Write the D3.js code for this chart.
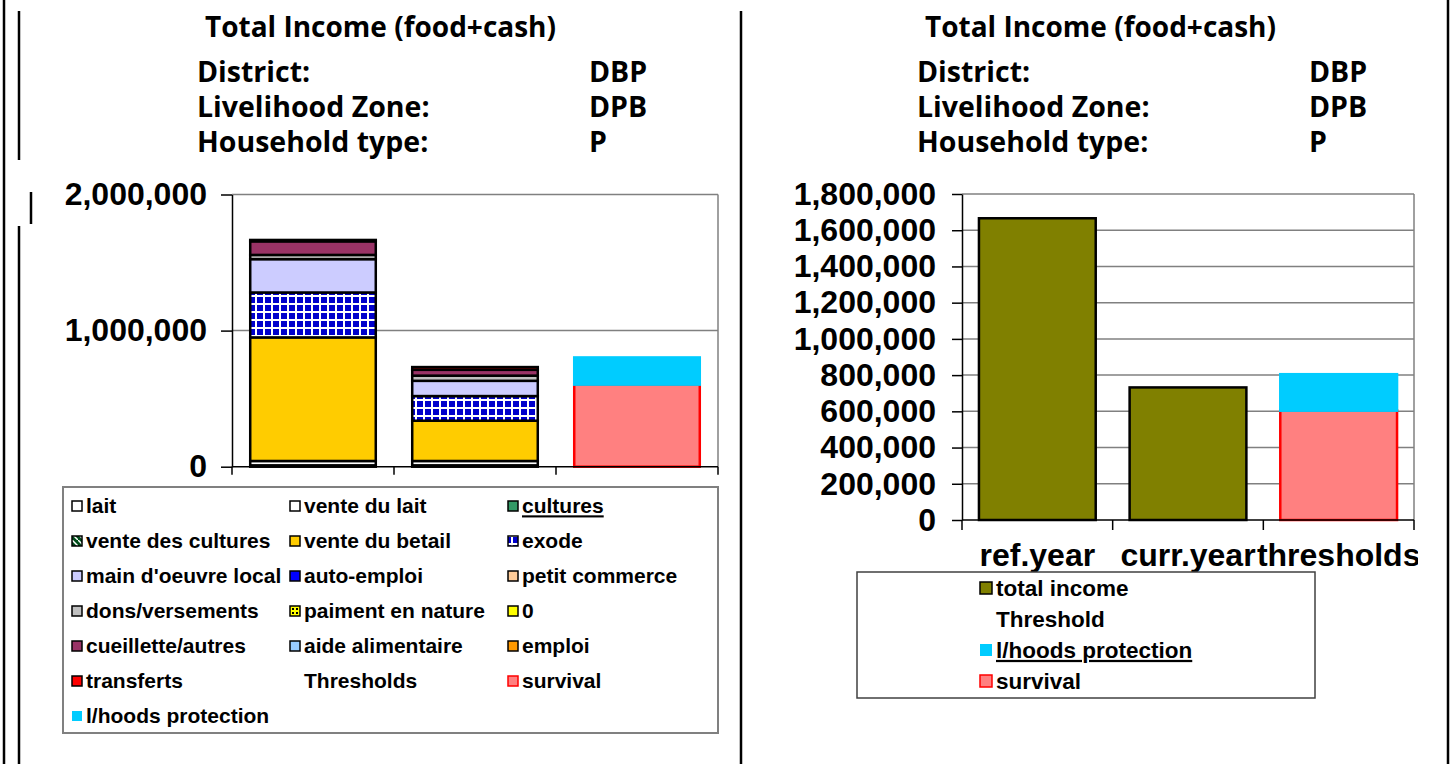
<!DOCTYPE html>
<html>
<head>
<meta charset="utf-8">
<script src="https://cdn.jsdelivr.net/npm/d3@7"></script>
<style>
body { margin: 0; background: #fff; }
svg text { font-family: "Liberation Sans", Arial, sans-serif; font-weight: bold; fill: #000; }
svg text.hdr { font-family: "Open Sans", Lato, sans-serif; font-weight: 700; }
</style>
</head>
<body>
<svg id="chart" width="1452" height="764"></svg>
<script>
// ---- data ----
var categories = ["ref.year", "curr.year", "thresholds"];

var sources = ["lait", "vente du lait", "cultures", "vente des cultures", "vente du betail",
    "exode", "main d'oeuvre local", "auto-emploi", "petit commerce", "dons/versements",
    "paiment en nature", "0", "cueillette/autres", "aide alimentaire", "emploi", "transferts"];
var refYear  = [10000, 32000, 0, 0, 908000, 330000, 245000, 0, 0, 31000, 0, 0, 100000, 0, 0, 10000];
var currYear = [10000, 32000, 0, 0, 296000, 181000, 112000, 0, 0, 38000, 0, 0, 43000, 0, 0, 20000];

var thresholdNames = ["survival", "l/hoods protection"];
var thresholdValues = [605000, 207000];

var leftTicks = [0, 1000000, 2000000];
var rightTicks = [0, 200000, 400000, 600000, 800000, 1000000, 1200000, 1400000, 1600000, 1800000];

var headerLabels = ["District:", "Livelihood Zone:", "Household type:"];
var headerValues = ["DBP", "DPB", "P"];
var title = "Total Income (food+cash)";

// ---- styles ----
var colorMapping = {
    "lait": "#FFFFFF",
    "vente du lait": "#FFFFFF",
    "cultures": "#339966",
    "vente des cultures": "url(#pCultures)",
    "vente du betail": "#FFCC00",
    "exode": "url(#pExode)",
    "main d'oeuvre local": "#CCCCFF",
    "auto-emploi": "#0000FF",
    "petit commerce": "#FFCC99",
    "dons/versements": "#C0C0C0",
    "paiment en nature": "url(#pNature)",
    "0": "#FFFF00",
    "cueillette/autres": "#993366",
    "aide alimentaire": "#99CCFF",
    "emploi": "#FF9900",
    "transferts": "#FF0000",
    "survival": "#FF8080",
    "l/hoods protection": "#00CCFF",
    "total income": "#808000"
};
var fmt = d3.format(",");

var svg = d3.select("#chart");
var defs = svg.append("defs");

var pe = defs.append("pattern").attr("id", "pExode").attr("patternUnits", "userSpaceOnUse")
    .attr("width", 8).attr("height", 8);
pe.append("rect").attr("width", 8).attr("height", 8).attr("fill", "#fff");
pe.append("rect").attr("x", 1).attr("y", 1).attr("width", 6).attr("height", 6).attr("fill", "#0000CC");

var pc = defs.append("pattern").attr("id", "pCultures").attr("patternUnits", "userSpaceOnUse")
    .attr("width", 6).attr("height", 6);
pc.append("rect").attr("width", 6).attr("height", 6).attr("fill", "#004d1a");
pc.append("path").attr("d", "M0,0L6,6").attr("stroke", "#fff").attr("stroke-width", 1.5);

var pn = defs.append("pattern").attr("id", "pNature").attr("patternUnits", "userSpaceOnUse")
    .attr("width", 4).attr("height", 4);
pn.append("rect").attr("width", 4).attr("height", 4).attr("fill", "#FFFF00");
pn.append("rect").attr("width", 2).attr("height", 2).attr("fill", "#000");

defs.append("clipPath").attr("id", "pageClip")
    .append("rect").attr("x", 0).attr("y", 0).attr("width", 1418).attr("height", 764);

// ---- page frame lines ----
function vline(x, y1, y2, w) {
    svg.append("line").attr("x1", x).attr("x2", x).attr("y1", y1).attr("y2", y2)
        .attr("stroke", "#000").attr("stroke-width", w || 2.5);
}
vline(4, 0, 764);
vline(19, 11, 160);
vline(31, 192, 224);
vline(19, 226, 764);
vline(741, 11, 764);
vline(1448, 0, 764);

// ---- headers ----
function header(dx) {
    svg.append("text").attr("class", "hdr").attr("x", 205 + dx).attr("y", 37)
        .style("font-size", "28px").text(title);
    headerLabels.forEach(function (l, i) {
        svg.append("text").attr("class", "hdr").attr("x", 197 + dx).attr("y", 82 + i * 35)
            .style("font-size", "28.5px").text(l);
        svg.append("text").attr("class", "hdr").attr("x", 589 + dx).attr("y", 82 + i * 35)
            .style("font-size", "28.5px").text(headerValues[i]);
    });
}
header(0);
header(720);

var barShare = 0.775;

// ---- left chart: stacked sources ----
var yL = d3.scaleLinear().domain([0, 2000000]).range([466.7, 194.5]);
var xL = d3.scaleBand().domain(categories).range([232, 718]);
var bwL = xL.bandwidth() * barShare;

var gL = svg.append("g");
gL.selectAll(".grid").data(leftTicks.slice(1)).enter().append("line")
    .attr("x1", 232).attr("x2", 718).attr("y1", yL).attr("y2", yL)
    .attr("stroke", "#808080").attr("stroke-width", 1.5);
gL.append("line").attr("x1", 718).attr("x2", 718).attr("y1", yL(2000000)).attr("y2", yL(0))
    .attr("stroke", "#808080").attr("stroke-width", 1.5);

var rows = [refYear, currYear].map(function (vals, i) {
    var o = { cat: categories[i] };
    sources.forEach(function (s, j) { o[s] = vals[j]; });
    return o;
});
var stack = d3.stack().keys(sources)(rows);
stack.forEach(function (layer) {
    gL.selectAll(null).data(layer.filter(function (d) { return d[1] > d[0]; })).enter()
        .append("rect")
        .attr("x", function (d) { return xL(d.data.cat) + (xL.bandwidth() - bwL) / 2; })
        .attr("width", bwL)
        .attr("y", function (d) { return yL(d[1]); })
        .attr("height", function (d) { return yL(d[0]) - yL(d[1]); })
        .attr("fill", colorMapping[layer.key])
        .attr("stroke", "#000").attr("stroke-width", 2.5);
});

function thresholdBar(g, x, y) {
    var bw = x.bandwidth() * barShare;
    var bx = x("thresholds") + (x.bandwidth() - bw) / 2;
    var s = thresholdValues[0], p = thresholdValues[1];
    g.append("rect").attr("x", bx).attr("width", bw)
        .attr("y", y(s)).attr("height", y(0) - y(s))
        .attr("fill", colorMapping["survival"]).attr("stroke", "#FF0000").attr("stroke-width", 2.5);
    g.append("rect").attr("x", bx - 1.25).attr("width", bw + 2.5)
        .attr("y", y(s + p)).attr("height", y(s) - y(s + p) + 1.5)
        .attr("fill", colorMapping["l/hoods protection"]);
}
thresholdBar(gL, xL, yL);

var axL = gL.append("g").attr("transform", "translate(232,0)")
    .call(d3.axisLeft(yL).tickValues(leftTicks).tickFormat(fmt).tickSize(11).tickPadding(14).tickSizeOuter(0));
axL.selectAll("text").style("font-size", "32px").attr("font-family", null);
axL.selectAll("path,line").attr("stroke", "#000").attr("stroke-width", 1.5);

gL.append("line").attr("x1", 232).attr("x2", 718).attr("y1", yL(0)).attr("y2", yL(0))
    .attr("stroke", "#000").attr("stroke-width", 1.5);
gL.selectAll(".xt").data(categories.map(xL).concat([718])).enter().append("line")
    .attr("x1", function (d) { return d; }).attr("x2", function (d) { return d; })
    .attr("y1", yL(0)).attr("y2", yL(0) + 8)
    .attr("stroke", "#000").attr("stroke-width", 1.5);

// ---- right chart: totals ----
var totals = [refYear, currYear].map(function (v) { return d3.sum(v); });
var yR = d3.scaleLinear().domain([0, 1800000]).range([520, 194]);
var xR = d3.scaleBand().domain(categories).range([962, 1414]);
var bwR = xR.bandwidth() * barShare;
var gR = svg.append("g");

gR.selectAll(".grid").data(rightTicks.slice(1)).enter().append("line")
    .attr("x1", 962).attr("x2", 1414).attr("y1", yR).attr("y2", yR)
    .attr("stroke", "#808080").attr("stroke-width", 1.5);
gR.append("line").attr("x1", 1414).attr("x2", 1414).attr("y1", yR(1800000)).attr("y2", yR(0))
    .attr("stroke", "#808080").attr("stroke-width", 1.5);

gR.selectAll(".bar").data(totals).enter().append("rect")
    .attr("x", function (d, i) { return xR(categories[i]) + (xR.bandwidth() - bwR) / 2; })
    .attr("width", bwR)
    .attr("y", function (d) { return yR(d); })
    .attr("height", function (d) { return yR(0) - yR(d); })
    .attr("fill", colorMapping["total income"])
    .attr("stroke", "#000").attr("stroke-width", 2.5);
thresholdBar(gR, xR, yR);

var axR = gR.append("g").attr("transform", "translate(962,0)")
    .call(d3.axisLeft(yR).tickValues(rightTicks).tickFormat(fmt).tickSize(10).tickPadding(16).tickSizeOuter(0));
axR.selectAll("text").style("font-size", "32px").attr("font-family", null);
axR.selectAll("path,line").attr("stroke", "#000").attr("stroke-width", 1.5);

gR.append("line").attr("x1", 962).attr("x2", 1414).attr("y1", yR(0)).attr("y2", yR(0))
    .attr("stroke", "#000").attr("stroke-width", 1.5);
gR.selectAll(".xt").data(categories.map(xR).concat([1414])).enter().append("line")
    .attr("x1", function (d) { return d; }).attr("x2", function (d) { return d; })
    .attr("y1", yR(0)).attr("y2", yR(0) + 10)
    .attr("stroke", "#000").attr("stroke-width", 1.5);
gR.append("g").attr("clip-path", "url(#pageClip)")
    .selectAll("text").data(categories).enter().append("text")
    .attr("x", function (d) { return xR(d) + xR.bandwidth() / 2; })
    .attr("y", 566).attr("text-anchor", "middle")
    .style("font-size", "32px").text(function (d) { return d; });

// ---- legends ----
function legendItem(g, x, y, name, size, fs) {
    var fill = colorMapping[name];
    var stroke = name === "survival" ? "#FF0000" : "#000";
    if (name === "l/hoods protection") stroke = "none";
    if (fill) {
        g.append("rect").attr("x", x).attr("y", y - size / 2).attr("width", size).attr("height", size)
            .attr("fill", fill).attr("stroke", stroke).attr("stroke-width", 1.5);
    }
    return g.append("text").attr("x", x + size + 4).attr("y", y).attr("dy", "0.35em")
        .style("font-size", fs + "px").text(name);
}

var legL = svg.append("g");
legL.append("rect").attr("x", 63).attr("y", 487).attr("width", 655).attr("height", 246)
    .attr("fill", "#fff").attr("stroke", "#808080").attr("stroke-width", 2);
var leftItems = sources.concat(["Thresholds"], thresholdNames);
leftItems.forEach(function (name, i) {
    var col = i % 3, row = Math.floor(i / 3);
    var t = legendItem(legL, 72 + col * 218, 506 + row * 35, name, 10, 21);
    if (name === "cultures") t.attr("text-decoration", "underline");
});

var legR = svg.append("g");
legR.append("rect").attr("x", 857).attr("y", 572).attr("width", 458).attr("height", 126)
    .attr("fill", "#fff").attr("stroke", "#404040").attr("stroke-width", 1.5);
var rightItems = ["total income", "Threshold", "l/hoods protection", "survival"];
rightItems.forEach(function (name, i) {
    var t = legendItem(legR, 980, 588 + i * 31, name, 12, 22.5);
    if (name === "l/hoods protection") t.attr("text-decoration", "underline");
});
</script>
</body>
</html>
